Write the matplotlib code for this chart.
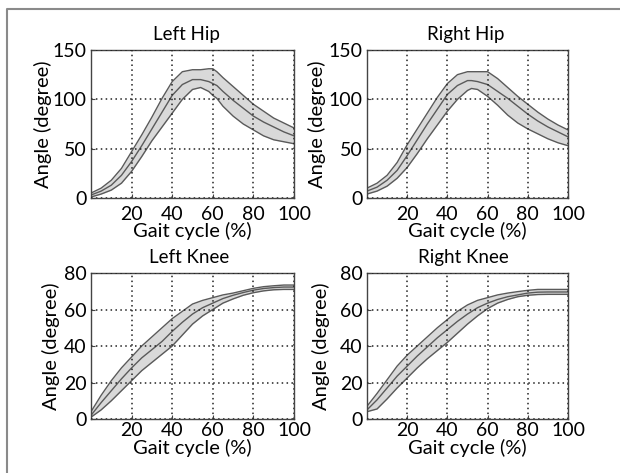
import matplotlib
matplotlib.use("Agg")
import matplotlib.pyplot as plt
from matplotlib.lines import Line2D

plt.rcParams['font.family'] = ['Lato', 'DejaVu Sans']

# ---------------- data ----------------
hip_l_x = [0, 5, 10, 15, 20, 25, 30, 35, 40, 45, 50, 54, 58, 60, 62, 65, 70, 75, 80, 85, 90, 95, 100]
hip_l_upper = [5, 10, 18, 30, 47, 64, 82, 101, 118, 128, 130, 130, 131, 131, 128, 122, 113, 104, 95, 88, 81, 76, 71]
hip_l_mean = [3, 7, 13, 23, 37, 53, 70, 87, 104, 115, 120, 120, 118, 116, 114, 108, 99, 91, 83, 77, 72, 67, 63]
hip_l_lower = [1, 4, 8, 15, 27, 42, 58, 72, 86, 100, 110, 112, 108, 104, 101, 93, 83, 75, 69, 63, 59, 57, 55]

hip_r_x = [0, 5, 10, 15, 20, 25, 30, 35, 40, 45, 50, 52, 55, 60, 65, 70, 75, 80, 85, 90, 95, 100]
hip_r_upper = [10, 15, 23, 36, 54, 70, 86, 102, 116, 125, 128, 128, 128, 128, 121, 112, 103, 95, 87, 80, 74, 69]
hip_r_mean = [7, 11, 18, 28, 43, 59, 75, 90, 105, 114, 119, 119, 118, 115, 108, 101, 93, 85, 78, 72, 67, 62]
hip_r_lower = [4, 7, 12, 20, 31, 45, 60, 74, 88, 100, 109, 111, 110, 103, 94, 84, 76, 70, 65, 60, 56, 53]

knee_x = [0, 5, 10, 15, 20, 25, 30, 35, 40, 45, 50, 55, 60, 65, 70, 75, 80, 85, 90, 95, 100]
knee_l_upper = [4, 13, 21, 28, 34, 40, 45, 50, 55, 59, 63, 65, 66.5, 68, 69, 70.3, 71.6, 72.5, 73, 73.4, 73.4]
knee_l_mean = [2, 9, 15.5, 22, 28, 33.5, 38, 42.5, 48, 53, 57.5, 61, 63.5, 66, 67.8, 69.3, 70.6, 71.5, 72, 72.3, 72.3]
knee_l_lower = [1, 5, 10, 15.5, 21, 26.5, 31, 35.5, 40, 46, 52, 56.5, 60, 63.5, 65.8, 67.8, 69.2, 70.2, 70.8, 71, 71]

knee_r_upper = [7, 14, 21.5, 29, 35, 40, 45, 50, 54.5, 59, 62.5, 65, 66.5, 68, 69, 69.8, 70.5, 71, 71, 71, 71]
knee_r_mean = [5, 10.5, 17, 23.5, 29, 34.5, 39.5, 44.5, 49, 53.5, 57.5, 61, 63.5, 65.5, 67, 68, 69, 69.5, 69.6, 69.6, 69.6]
knee_r_lower = [4, 5.5, 11, 17, 22.5, 28, 33, 37.5, 42, 47, 52, 56.5, 60.5, 63.5, 65.5, 67, 67.8, 68.2, 68.3, 68.3, 68.3]

titles = ["Left Hip", "Right Hip", "Left Knee", "Right Knee"]
x_ticks = [20, 40, 60, 80, 100]
hip_yticks = [0, 50, 100, 150]
knee_yticks = [0, 20, 40, 60, 80]
xlabel = "Gait cycle (%)"
ylabel = "Angle (degree)"

# ---------------- figure ----------------
W, H = 620, 473
fig = plt.figure(figsize=(W / 100, H / 100), dpi=100)
fig.patch.set_facecolor('white')


def px_axes(x0, y0, x1, y1):
    return fig.add_axes([x0 / W, 1 - y1 / H, (x1 - x0) / W, (y1 - y0) / H])


panels = [
    dict(box=(91, 50, 294, 198), x=hip_l_x, up=hip_l_upper, mn=hip_l_mean, lo=hip_l_lower,
         yl=(0, 150), yt=hip_yticks, title=titles[0], tx=0.472, ylx=-0.19, pad=6.0, xly=-0.262),
    dict(box=(367, 50, 568, 198), x=hip_r_x, up=hip_r_upper, mn=hip_r_mean, lo=hip_r_lower,
         yl=(0, 150), yt=hip_yticks, title=titles[1], tx=0.49, ylx=-0.205, pad=6.0, xly=-0.262),
    dict(box=(91, 273, 294, 419), x=knee_x, up=knee_l_upper, mn=knee_l_mean, lo=knee_l_lower,
         yl=(0, 80), yt=knee_yticks, title=titles[2], tx=0.482, ylx=-0.152, pad=2.5, xly=-0.238),
    dict(box=(367, 273, 568, 419), x=knee_x, up=knee_r_upper, mn=knee_r_mean, lo=knee_r_lower,
         yl=(0, 80), yt=knee_yticks, title=titles[3], tx=0.48, ylx=-0.182, pad=2.5, xly=-0.238),
]

line_col = '#5a5a5a'
fill_col = '#d9d9d9'

for p in panels:
    ax = px_axes(*p['box'])
    ax.fill_between(p['x'], p['lo'], p['up'], color=fill_col, lw=0, zorder=1)
    ax.plot(p['x'], p['up'], color=line_col, lw=1.0, zorder=2)
    ax.plot(p['x'], p['lo'], color=line_col, lw=1.0, zorder=2)
    ax.plot(p['x'], p['mn'], color=line_col, lw=1.0, zorder=2)
    ax.set_xlim(0, 100)
    ax.set_ylim(*p['yl'])
    ax.set_xticks(x_ticks)
    ax.set_yticks(p['yt'])
    ax.grid(True, color='#222222', linestyle=(0, (1, 2.2)), linewidth=1.1, zorder=3)
    ax.set_axisbelow(False)
    ax.tick_params(direction='in', length=3, width=0.8, color='#444444',
                   labelsize=14, labelcolor='black', top=False, right=False)
    ax.tick_params(axis='x', pad=p['pad'])
    ax.tick_params(axis='y', pad=3)
    for s in ax.spines.values():
        s.set_color('#444444')
        s.set_linewidth(1.0)
    ax.set_title(p['title'], fontsize=13.5, pad=7.5, x=p['tx'])
    ax.set_xlabel(xlabel, fontsize=14.5)
    ax.set_ylabel(ylabel, fontsize=14.5)
    ax.xaxis.set_label_coords(0.5, p['xly'])
    ax.xaxis.label.set_va('baseline')
    ax.yaxis.set_label_coords(p['ylx'], 0.5)

# outer frame (partially visible in the reference)
fig.add_artist(Line2D([7 / W, 7 / W, 1.0], [0.0, 1 - 9 / H, 1 - 9 / H],
                      transform=fig.transFigure, color='#8a8a8a', lw=1.5))

fig.savefig('out.png', dpi=100, facecolor='white')
